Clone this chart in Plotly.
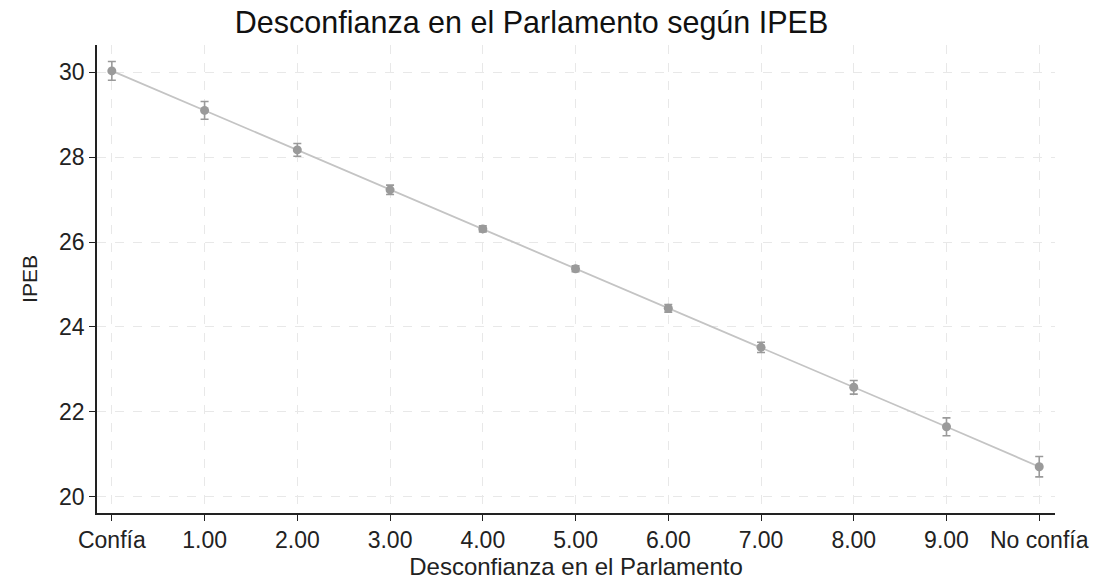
import plotly.graph_objects as go

categories = ["Confía", "1.00", "2.00", "3.00", "4.00", "5.00", "6.00", "7.00", "8.00", "9.00", "No confía"]
x_vals = [0, 1, 2, 3, 4, 5, 6, 7, 8, 9, 10]
ipeb = [30.03, 29.10, 28.17, 27.23, 26.31, 25.37, 24.44, 23.52, 22.58, 21.65, 20.71]
err = [0.22, 0.21, 0.15, 0.11, 0.07, 0.07, 0.09, 0.12, 0.16, 0.21, 0.24]
y_ticks = [20, 22, 24, 26, 28, 30]

font = "Liberation Sans, Arial, sans-serif"

fig = go.Figure()
fig.add_trace(go.Scatter(
    x=x_vals, y=ipeb, mode="lines",
    line=dict(color="#c4c4c4", width=1.8),
    hoverinfo="skip", showlegend=False,
))
fig.add_trace(go.Scatter(
    x=x_vals, y=ipeb, mode="markers",
    marker=dict(color="#9a9a9a", size=9, symbol="circle"),
    error_y=dict(type="data", array=err, visible=True, color="#9a9a9a", thickness=1.6, width=4),
    showlegend=False,
))

fig.update_layout(
    width=1096, height=583,
    margin=dict(l=97, r=41, t=45, b=70),
    paper_bgcolor="white", plot_bgcolor="white",
    font=dict(family=font, size=21, color="#222"),
    title=dict(text="Desconfianza en el Parlamento según IPEB", x=0.485, xanchor="center",
               y=0.962, yanchor="middle", font=dict(size=30.5, color="#111")),
    xaxis=dict(
        range=[-0.16, 10.17], tickmode="array", tickvals=x_vals, ticktext=categories,
        showline=True, linecolor="#222", linewidth=1.5, ticks="outside", ticklen=6,
        tickcolor="#222", showgrid=True, gridcolor="#e8e8e8", griddash="dash", gridwidth=1,
        zeroline=False, mirror=False, tickfont=dict(size=23), automargin=False,
        title=dict(text="Desconfianza en el Parlamento", font=dict(size=24), standoff=2),
    ),
    yaxis=dict(
        range=[19.62, 30.64], tickmode="array", tickvals=y_ticks,
        showline=True, linecolor="#222", linewidth=1.5, ticks="outside", ticklen=6,
        tickcolor="#222", showgrid=True, gridcolor="#e8e8e8", griddash="dash", gridwidth=1,
        zeroline=False, mirror=False, tickfont=dict(size=23), automargin=False,
        title=dict(text="IPEB", font=dict(size=21), standoff=16),
    ),
)

fig.write_html("out.html")
